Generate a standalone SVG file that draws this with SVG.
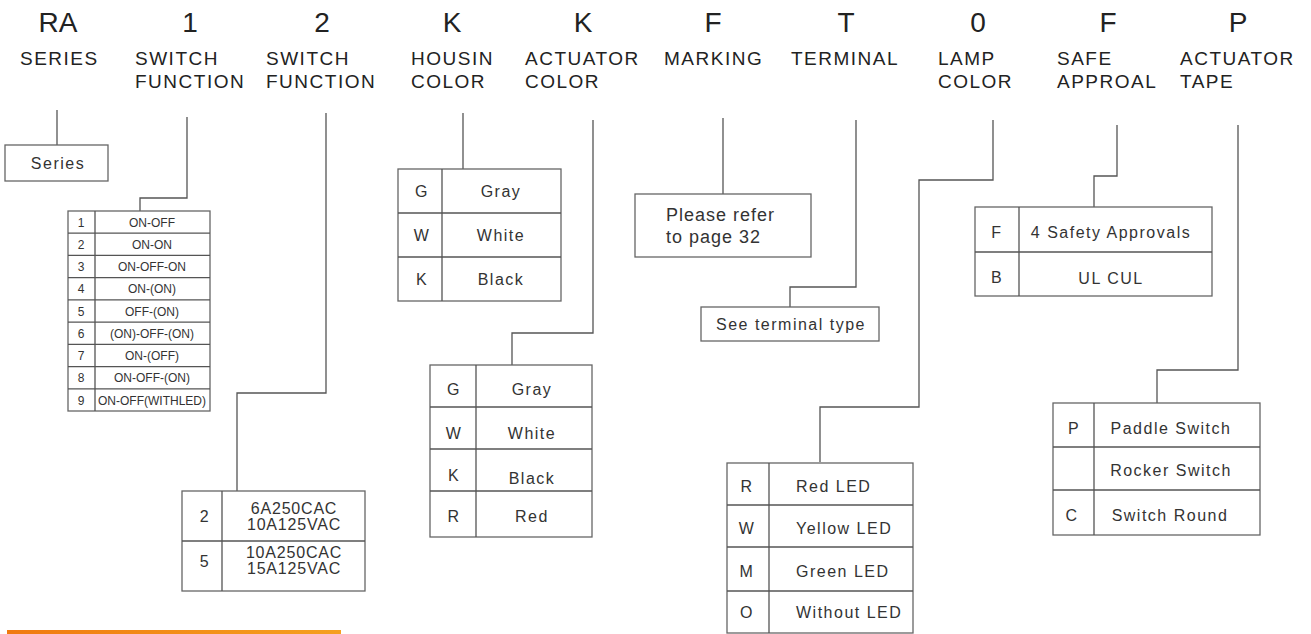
<svg xmlns="http://www.w3.org/2000/svg" width="1311" height="634" viewBox="0 0 1311 634">
<defs>
<style>
.big{font-family:"Liberation Sans",Arial,sans-serif;font-size:28px;fill:#222;text-anchor:middle}
.hd{font-family:"Liberation Sans",Arial,sans-serif;font-size:19px;fill:#222;letter-spacing:1.5px}
.box{fill:#fff;stroke:#666;stroke-width:1.3}
.ln{fill:none;stroke:#555;stroke-width:1.3}
.t{font-family:"Liberation Sans",Arial,sans-serif;font-size:16px;fill:#333;text-anchor:middle;letter-spacing:1.5px}
.tl{font-family:"Liberation Sans",Arial,sans-serif;font-size:16px;fill:#333;letter-spacing:1.5px}
.v{font-family:"Liberation Sans",Arial,sans-serif;font-size:16px;fill:#333;text-anchor:middle;letter-spacing:0.8px}
.s{font-family:"Liberation Sans Narrow","Liberation Sans",Arial,sans-serif;font-size:12px;fill:#333;text-anchor:middle}
</style>
<linearGradient id="og" x1="0" y1="0" x2="1" y2="0">
<stop offset="0" stop-color="#f07a10"/><stop offset="1" stop-color="#f5a020"/>
</linearGradient>
</defs>
<rect width="1311" height="634" fill="#fff"/>
<g id="headers">
<text class="big" x="58" y="32">RA</text>
<text class="big" x="190" y="32">1</text>
<text class="big" x="322" y="32">2</text>
<text class="big" x="452" y="32">K</text>
<text class="big" x="583" y="32">K</text>
<text class="big" x="713" y="32">F</text>
<text class="big" x="846" y="32">T</text>
<text class="big" x="978" y="32">0</text>
<text class="big" x="1108" y="32">F</text>
<text class="big" x="1238" y="32">P</text>
<text class="hd" x="20" y="65">SERIES</text>
<text class="hd" x="135" y="65">SWITCH</text>
<text class="hd" x="135" y="88" fill="#444">FUNCTION</text>
<text class="hd" x="266" y="65">SWITCH</text>
<text class="hd" x="266" y="88">FUNCTION</text>
<text class="hd" x="411" y="65">HOUSIN</text>
<text class="hd" x="411" y="88">COLOR</text>
<text class="hd" x="525" y="65">ACTUATOR</text>
<text class="hd" x="525" y="88">COLOR</text>
<text class="hd" x="664" y="65">MARKING</text>
<text class="hd" x="791" y="65">TERMINAL</text>
<text class="hd" x="938" y="65">LAMP</text>
<text class="hd" x="938" y="88">COLOR</text>
<text class="hd" x="1057" y="65">SAFE</text>
<text class="hd" x="1057" y="88">APPROAL</text>
<text class="hd" x="1180" y="65">ACTUATOR</text>
<text class="hd" x="1180" y="88">TAPE</text>
</g>
<g id="connectors">
<path class="ln" d="M57 110V145"/>
<path class="ln" d="M187 117V198H140V211"/>
<path class="ln" d="M326 113V393H237V491"/>
<path class="ln" d="M463 113V169"/>
<path class="ln" d="M593 120V333H512V365"/>
<path class="ln" d="M723 118V194"/>
<path class="ln" d="M856 120V287H790V307"/>
<path class="ln" d="M993 120V180H919V407H820V462"/>
<path class="ln" d="M1117 125V176H1094V207"/>
<path class="ln" d="M1238 125V370H1157V403"/>
</g>
<g id="series">
<rect class="box" x="5" y="145" width="103" height="36"/>
<text class="t" x="58" y="169">Series</text>
</g>
<g id="switch-function-1">
<rect class="box" x="68" y="211" width="142" height="200"/>
<path class="ln" d="M95 211V411M68 233.2H210M68 255.4H210M68 277.7H210M68 299.9H210M68 322.1H210M68 344.3H210M68 366.6H210M68 388.8H210"/>
<text class="s" x="81" y="227">1</text><text class="s" x="152" y="227">ON-OFF</text>
<text class="s" x="81" y="249">2</text><text class="s" x="152" y="249">ON-ON</text>
<text class="s" x="81" y="271">3</text><text class="s" x="152" y="271">ON-OFF-ON</text>
<text class="s" x="81" y="293">4</text><text class="s" x="152" y="293">ON-(ON)</text>
<text class="s" x="81" y="316">5</text><text class="s" x="152" y="316">OFF-(ON)</text>
<text class="s" x="81" y="338">6</text><text class="s" x="152" y="338">(ON)-OFF-(ON)</text>
<text class="s" x="81" y="360">7</text><text class="s" x="152" y="360">ON-(OFF)</text>
<text class="s" x="81" y="382">8</text><text class="s" x="152" y="382">ON-OFF-(ON)</text>
<text class="s" x="81" y="405">9</text><text class="s" x="152" y="405">ON-OFF(WITHLED)</text>
</g>
<g id="switch-function-2">
<rect class="box" x="182" y="491" width="183" height="100"/>
<path class="ln" d="M222 491V591M182 541H365"/>
<text class="t" x="205" y="522">2</text>
<text class="v" x="294" y="514">6A250CAC</text>
<text class="v" x="294" y="530">10A125VAC</text>
<text class="t" x="205" y="567">5</text>
<text class="v" x="294" y="558">10A250CAC</text>
<text class="v" x="294" y="574">15A125VAC</text>
</g>
<g id="housing-color">
<rect class="box" x="398" y="169" width="163" height="132"/>
<path class="ln" d="M442 169V301M398 213H561M398 257H561"/>
<text class="t" x="422" y="197">G</text><text class="t" x="501" y="197">Gray</text>
<text class="t" x="422" y="241">W</text><text class="t" x="501" y="241">White</text>
<text class="t" x="422" y="285">K</text><text class="t" x="501" y="285">Black</text>
</g>
<g id="actuator-color">
<rect class="box" x="430" y="365" width="162" height="172"/>
<path class="ln" d="M476 365V537M430 407H592M430 449H592M430 491H592"/>
<text class="t" x="454" y="395">G</text><text class="t" x="532" y="395">Gray</text>
<text class="t" x="454" y="439">W</text><text class="t" x="532" y="439">White</text>
<text class="t" x="454" y="481">K</text><text class="t" x="532" y="484">Black</text>
<text class="t" x="454" y="522">R</text><text class="t" x="532" y="522">Red</text>
</g>
<g id="marking">
<rect class="box" x="635" y="194" width="176" height="63"/>
<text class="tl" x="666" y="221" style="font-size:18px;letter-spacing:1px">Please refer</text>
<text class="tl" x="666" y="243" style="font-size:18px;letter-spacing:1px">to page 32</text>
</g>
<g id="terminal">
<rect class="box" x="701" y="307" width="178" height="34"/>
<text class="t" x="791" y="330">See terminal type</text>
</g>
<g id="lamp-color">
<rect class="box" x="727" y="463" width="186" height="170"/>
<path class="ln" d="M769 463V633M727 505H913M727 547H913M727 591H913"/>
<text class="t" x="747" y="492">R</text><text class="tl" x="796" y="492">Red LED</text>
<text class="t" x="747" y="534">W</text><text class="tl" x="796" y="534">Yellow LED</text>
<text class="t" x="747" y="577">M</text><text class="tl" x="796" y="577">Green LED</text>
<text class="t" x="747" y="618">O</text><text class="tl" x="796" y="618">Without LED</text>
</g>
<g id="safe-approval">
<rect class="box" x="975" y="207" width="237" height="89"/>
<path class="ln" d="M1019 207V296M975 252H1212"/>
<text class="t" x="997" y="238">F</text><text class="t" x="1111" y="238">4 Safety Approvals</text>
<text class="t" x="997" y="283">B</text><text class="t" x="1111" y="284">UL CUL</text>
</g>
<g id="actuator-tape">
<rect class="box" x="1053" y="403" width="207" height="132"/>
<path class="ln" d="M1094 403V535M1053 447H1260M1053 490H1260"/>
<text class="t" x="1074" y="434">P</text><text class="t" x="1171" y="434" fill="#111">Paddle Switch</text>
<text class="t" x="1171" y="476">Rocker Switch</text>
<text class="t" x="1072" y="521">C</text><text class="t" x="1170" y="521">Switch Round</text>
</g>
<rect x="7" y="630" width="334" height="4" fill="url(#og)"/>
</svg>
